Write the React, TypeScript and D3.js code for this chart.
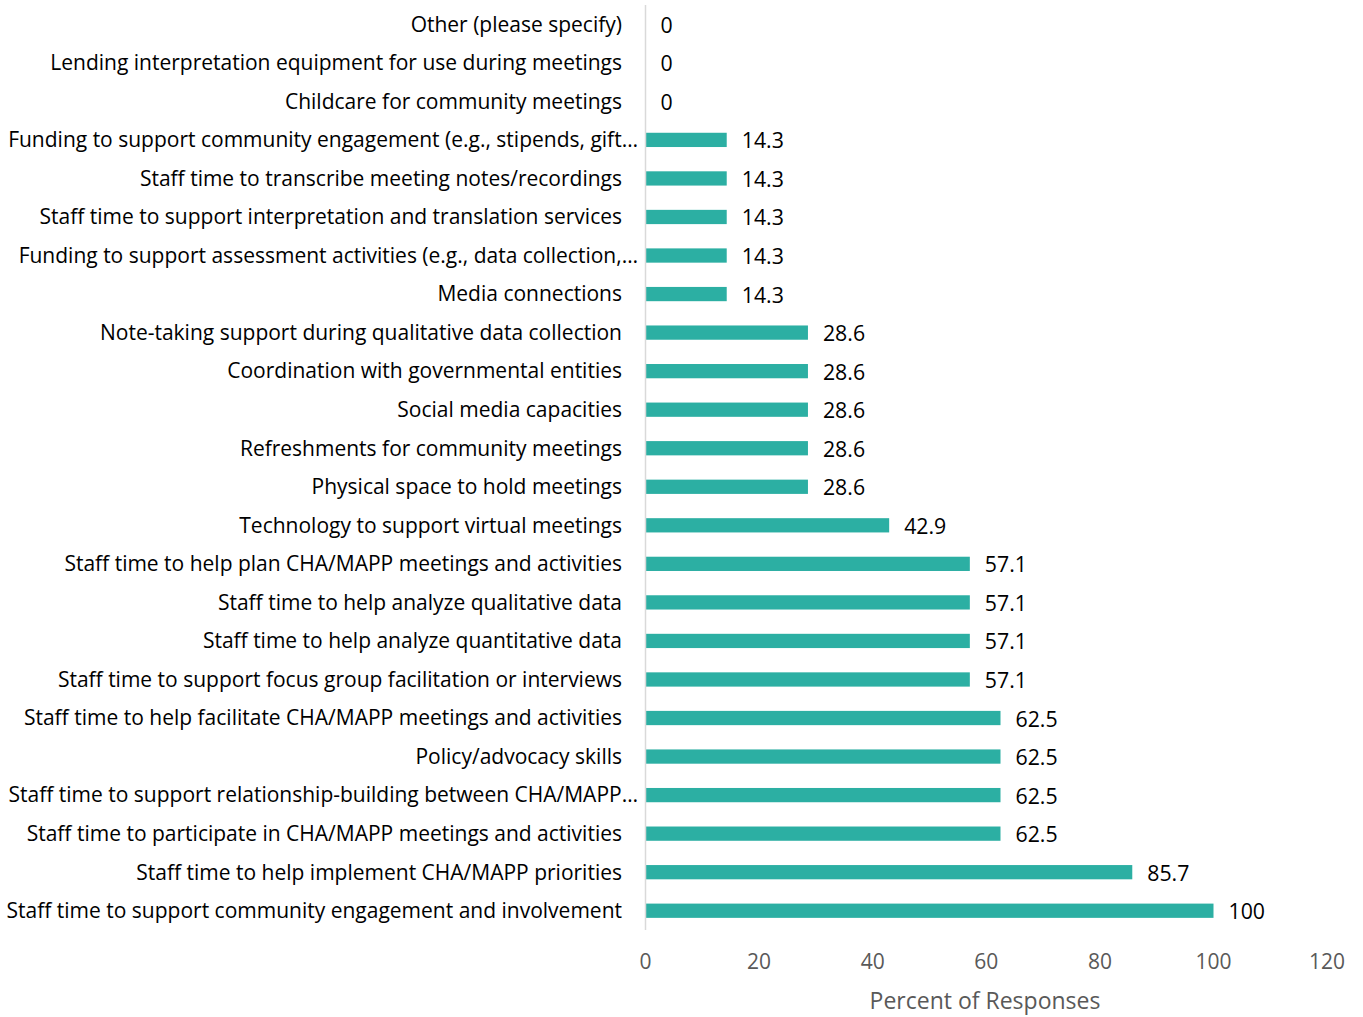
import React from "react";
import * as d3 from "d3";

const categories = [
  "Other (please specify)",
  "Lending interpretation equipment for use during meetings",
  "Childcare for community meetings",
  "Funding to support community engagement (e.g., stipends, gift…",
  "Staff time to transcribe meeting notes/recordings",
  "Staff time to support interpretation and translation services",
  "Funding to support assessment activities (e.g., data collection,…",
  "Media connections",
  "Note-taking support during qualitative data collection",
  "Coordination with governmental entities",
  "Social media capacities",
  "Refreshments for community meetings",
  "Physical space to hold meetings",
  "Technology to support virtual meetings",
  "Staff time to help plan CHA/MAPP meetings and activities",
  "Staff time to help analyze qualitative data",
  "Staff time to help analyze quantitative data",
  "Staff time to support focus group facilitation or interviews",
  "Staff time to help facilitate CHA/MAPP meetings and activities",
  "Policy/advocacy skills",
  "Staff time to support relationship-building between CHA/MAPP…",
  "Staff time to participate in CHA/MAPP meetings and activities",
  "Staff time to help implement CHA/MAPP priorities",
  "Staff time to support community engagement and involvement",
];

const values = [
  0, 0, 0, 14.3, 14.3, 14.3, 14.3, 14.3, 28.6, 28.6, 28.6, 28.6, 28.6, 42.9,
  57.1, 57.1, 57.1, 57.1, 62.5, 62.5, 62.5, 62.5, 85.7, 100,
];

const xTicks = [0, 20, 40, 60, 80, 100, 120];
const axisTitle = "Percent of Responses";

const FONT = "'Open Sans', Lato, sans-serif";

export default function App() {
  const width = 1363;
  const height = 1017;
  const x0 = 645.5;
  const x = d3.scaleLinear().domain([0, 120]).range([x0, x0 + 681.6]);
  const y = d3
    .scaleBand<string>()
    .domain(categories)
    .range([5, 930])
    .paddingInner(0.63)
    .paddingOuter(0.315);
  const bh = y.bandwidth();

  return (
    <svg
      width={width}
      height={height}
      style={{ position: "absolute", left: 0, top: 0, background: "#fff" }}
      fontFamily={FONT}
    >
      {categories.map((c, i) => {
        const cy = (y(c) as number) + bh / 2;
        const truncated = c.endsWith("…");
        return (
          <g key={c}>
            <text
              x={truncated ? 638 : 622}
              y={cy}
              dy="0.35em"
              textAnchor="end"
              fontSize={21}
              fill="#000"
            >
              {c}
            </text>
            {values[i] > 0 && (
              <rect
                x={x(0)}
                y={y(c)}
                width={x(values[i]) - x(0)}
                height={bh}
                fill="#2CAFA3"
              />
            )}
            <text
              x={x(values[i]) + 15}
              y={cy}
              dy="0.4em"
              fontSize={21.3}
              fill="#000"
            >
              {String(values[i])}
            </text>
          </g>
        );
      })}
      <line x1={x0} x2={x0} y1={5} y2={930} stroke="#D9D9D9" strokeWidth={1.5} />
      {xTicks.map((t) => (
        <text
          key={t}
          x={x(t)}
          y={962}
          dy="0.35em"
          textAnchor="middle"
          fontSize={21}
          fill="#595959"
        >
          {t}
        </text>
      ))}
      <text
        x={985}
        y={1001}
        dy="0.35em"
        textAnchor="middle"
        fontSize={23}
        fill="#595959"
      >
        {axisTitle}
      </text>
    </svg>
  );
}
